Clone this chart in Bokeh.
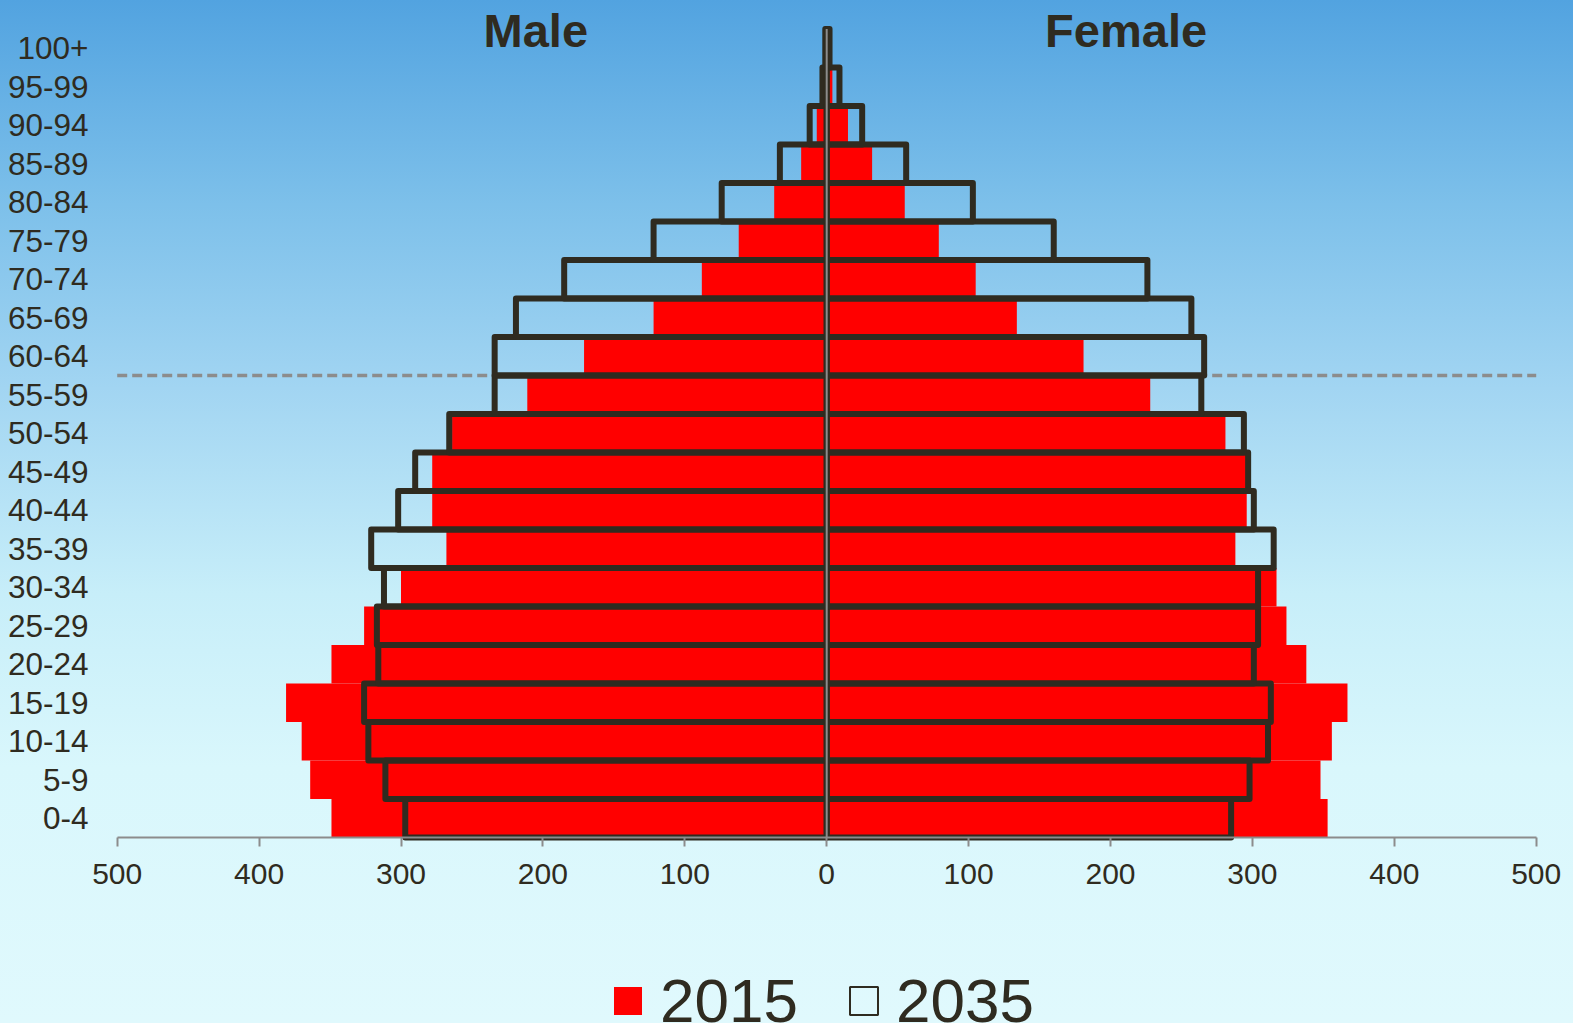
from bokeh.plotting import figure
from bokeh.models import (ColumnDataSource, Range1d, FixedTicker, Legend, LegendItem,
                          Label)
from bokeh.embed import file_html
from bokeh.resources import INLINE

# ---------------- data ----------------
age_groups = ["0-4", "5-9", "10-14", "15-19", "20-24", "25-29", "30-34", "35-39",
              "40-44", "45-49", "50-54", "55-59", "60-64", "65-69", "70-74", "75-79",
              "80-84", "85-89", "90-94", "95-99", "100+"]
male_2015 = [349, 364, 370, 381, 349, 326, 300, 268, 278, 278, 264, 211, 171, 122,
             88, 62, 37, 18, 7, 2, 0.5]
female_2015 = [353, 348, 356, 367, 338, 324, 317, 288, 296, 296, 281, 228, 181, 134,
               105, 79, 55, 32, 15, 4, 1]
male_2035 = [297, 311, 323, 326, 316, 317, 312, 321, 302, 290, 266, 234, 234, 219,
             185, 122, 74, 33, 12, 3, 1]
female_2035 = [285, 298, 311, 313, 301, 304, 304, 315, 301, 297, 294, 264, 266, 257,
               226, 160, 103, 56, 25, 9, 2]
x_ticks = [-500, -400, -300, -200, -100, 0, 100, 200, 300, 400, 500]
series_labels = ["2015", "2035"]
side_titles = ["Male", "Female"]
retirement_boundary = 11.5   # between 55-59 and 60-64

# ---------------- styles ----------------
DARK = "#2f2b20"
GREY = "#8c8c8c"
RED = "#ff0000"
FONT = "Liberation Sans"

idx = list(range(len(age_groups)))
src = ColumnDataSource(dict(
    y=idx,
    m15=[-v for v in male_2015],
    f15=female_2015,
    m35=[-v for v in male_2035],
    f35=female_2035,
))

# ---------------- layout geometry (screen px) ----------------
FIG_W, FIG_H = 1573, 1200
BOTTOM = 100
ROW = 38.5
AXIS_Y = 837
FRAME_L = 90
AXIS_L, AXIS_R = 116.7, 1535.7          # screen x of -500 and +500
PX = (AXIS_R - AXIS_L) / (x_ticks[-1] - x_ticks[0])
frame_h = FIG_H - BOTTOM
y_lo = -0.5 - (frame_h - AXIS_Y) / ROW
y_hi = -0.5 + AXIS_Y / ROW
x_lo = x_ticks[0] - (AXIS_L - FRAME_L) / PX
x_hi = x_ticks[-1] + (FIG_W - AXIS_R) / PX

p = figure(width=FIG_W, height=FIG_H, output_backend="svg", toolbar_location=None,
           x_range=Range1d(x_lo, x_hi), y_range=Range1d(y_lo, y_hi),
           min_border_left=FRAME_L, min_border_right=0, min_border_top=0,
           min_border_bottom=BOTTOM)
p.background_fill_color = None
p.border_fill_color = None
p.outline_line_color = None
p.grid.visible = False

# dashed reference line (behind bars)
p.segment(x0=[x_ticks[0]], y0=[retirement_boundary], x1=[x_ticks[-1]],
          y1=[retirement_boundary], line_color=GREY, line_width=3.5,
          line_dash="10 5")

# 2015 filled bars
r15 = p.hbar(y="y", left="m15", right=0, height=1.0, source=src,
             fill_color=RED, line_color=None)
p.hbar(y="y", left=0, right="f15", height=1.0, source=src,
       fill_color=RED, line_color=None)

# thin outline copy (hidden under the thick outlines) used as the 2035 legend swatch
r35_key = p.hbar(y="y", left=0, right="f35", height=1.0, source=src,
                 fill_color=None, line_color=DARK, line_width=2)

# 2035 outlined bars
p.hbar(y="y", left="m35", right=0, height=1.0, source=src, fill_color=None,
       line_color=DARK, line_width=6, line_join="round")
p.hbar(y="y", left=0, right="f35", height=1.0, source=src, fill_color=None,
       line_color=DARK, line_width=6, line_join="round")

# vertical axis line at zero
p.segment(x0=[0], y0=[idx[0] - 0.5], x1=[0], y1=[idx[-1] + 0.5],
          line_color=GREY, line_width=2)

# axes
p.xaxis.fixed_location = idx[0] - 0.5
p.xaxis.bounds = (x_ticks[0], x_ticks[-1])
p.xaxis.ticker = FixedTicker(ticks=x_ticks)
p.xaxis.major_label_overrides = {t: str(abs(t)) for t in x_ticks}
p.xaxis.axis_line_color = GREY
p.xaxis.axis_line_width = 2
p.xaxis.major_tick_line_color = GREY
p.xaxis.major_tick_line_width = 2
p.xaxis.major_tick_out = 9
p.xaxis.major_tick_in = 0
p.xaxis.minor_tick_line_color = None
p.xaxis.major_label_text_font = FONT
p.xaxis.major_label_text_font_size = "30px"
p.xaxis.major_label_text_color = DARK
p.xaxis.major_label_standoff = 17

p.yaxis.ticker = FixedTicker(ticks=idx)
p.yaxis.major_label_overrides = {i: a for i, a in zip(idx, age_groups)}
p.yaxis.axis_line_color = None
p.yaxis.major_tick_line_color = None
p.yaxis.minor_tick_line_color = None
p.yaxis.major_tick_out = 0
p.yaxis.major_tick_in = 0
p.yaxis.major_label_text_font = FONT
p.yaxis.major_label_text_font_size = "31.5px"
p.yaxis.major_label_text_color = DARK
p.yaxis.major_label_standoff = 2

# side titles
for t, xpos in zip(side_titles, [-205, 211]):
    p.add_layout(Label(x=xpos, y=20.47, text=t, text_align="center",
                       text_baseline="alphabetic", text_font=FONT,
                       text_font_style="bold", text_font_size="47px",
                       text_color=DARK))

legend = Legend(items=[LegendItem(label=series_labels[0], renderers=[r15]),
                       LegendItem(label=series_labels[1], renderers=[r35_key])],
                orientation="horizontal", location=(610 - FRAME_L, frame_h - 1036),
                glyph_width=35, glyph_height=35, label_standoff=15, spacing=48,
                padding=0, margin=0, border_line_color=None,
                background_fill_alpha=0, label_text_font=FONT,
                label_text_font_size="62px", label_text_color=DARK,
                label_text_baseline="middle")
p.add_layout(legend)

html = file_html(p, INLINE)
bg = ("<style>html,body{margin:0;overflow:hidden;}"
      "body{background:linear-gradient(to bottom,#52a3e0 0%,#7dc0ea 20%,"
      "#a2d5f2 38%,#c7eef9 58%,#d9f7fc 75%,#e0f9fd 100%) no-repeat;}</style></head>")
html = html.replace("</head>", bg, 1)
open("out.html", "w").write(html)
